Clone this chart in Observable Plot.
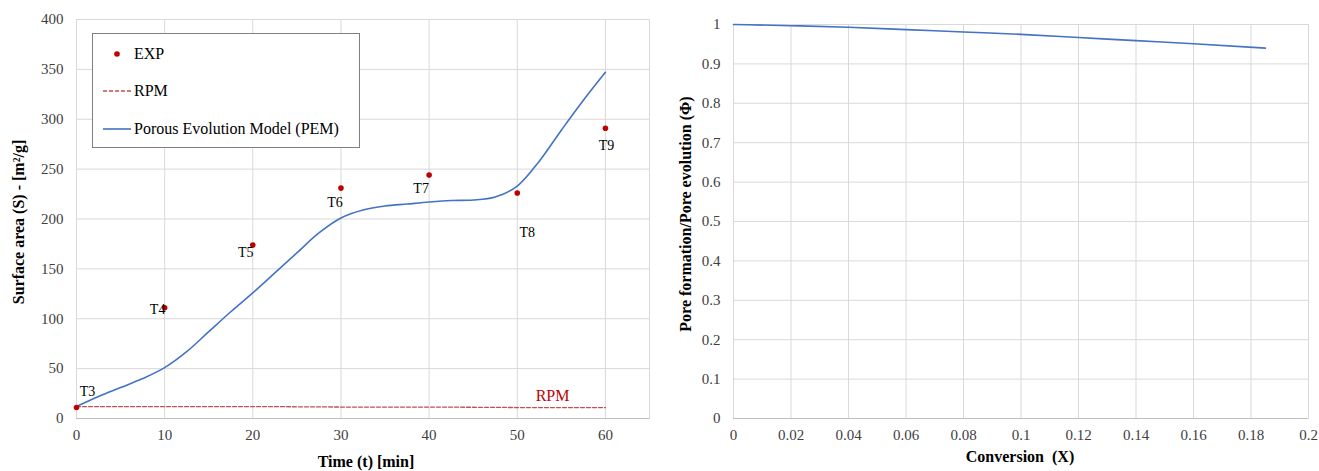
<!DOCTYPE html>
<html>
<head>
<meta charset="utf-8">
<script src="https://cdn.jsdelivr.net/npm/d3@7"></script>
<script src="https://cdn.jsdelivr.net/npm/@observablehq/plot@0.6"></script>
<style>
  body { margin: 0; background: #fff; }
  #wrap { position: relative; width: 1319px; height: 471px; font-family: "Liberation Serif", serif; color: #000; }
  #wrap svg, #wrap svg text { font-family: "Liberation Serif", serif !important; }
  .panel { position: absolute; top: 0; }
  .ttl { position: absolute; font-weight: bold; font-size: 16px; white-space: nowrap; }
  .rot { transform: translate(-50%, -50%) rotate(-90deg); }
  .hz { transform: translate(-50%, -50%); }
  #legend { position: absolute; left: 92px; top: 33px; width: 266px; height: 113px; border: 1px solid #808080; background: #fff; font-size: 16px; }
  .lrow { position: absolute; left: 0; height: 20px; display: flex; align-items: center; }
  .lrow svg { margin-left: 10px; margin-right: 3px; }
</style>
</head>
<body>
<div id="wrap">
  <div id="left" class="panel" style="left:0"></div>
  <div id="right" class="panel" style="left:660px"></div>
  <div class="ttl rot" style="left:19px; top:222px;">Surface area (S) - [m²/g]</div>
  <div class="ttl hz" style="left:366px; top:462px;">Time (t) [min]</div>
  <div class="ttl rot" style="left:686px; top:214px;">Pore formation/Pore evolution (Φ)</div>
  <div class="ttl hz" style="left:1020px; top:457px;">Conversion&nbsp; (X)</div>
  <div id="legend">
    <div class="lrow" style="top:10px;"><svg width="28" height="10"><circle cx="14" cy="5" r="2.8" fill="#c00000"/></svg><span>EXP</span></div>
    <div class="lrow" style="top:47px;"><svg width="28" height="10"><line x1="0" x2="28" y1="5" y2="5" stroke="#c0504d" stroke-width="1.3" stroke-dasharray="4,2"/></svg><span>RPM</span></div>
    <div class="lrow" style="top:85px;"><svg width="28" height="10"><line x1="0" x2="28" y1="5" y2="5" stroke="#4472c4" stroke-width="1.6"/></svg><span>Porous Evolution Model (PEM)</span></div>
  </div>
</div>
<script>
// ---- Left panel data ----
const expTime = [0, 10, 20, 30, 40, 50, 60];
const expArea = [11, 111, 174, 231, 244, 226, 291];
const expNames = ["T3", "T4", "T5", "T6", "T7", "T8", "T9"];

const pemTime = [0, 2.5, 5, 7.5, 10, 12.5, 15, 17.5, 20, 22.5, 25, 27.5, 30, 32.5, 35, 37.5, 40, 42.5, 45, 47.5, 50, 52.5, 55, 57.5, 60];
const pemArea = [12, 22, 31, 40, 51, 67, 87, 107, 126, 146, 166, 186, 201, 209, 213, 215, 217, 218.5, 219, 222, 233, 258, 289, 319, 347];

const rpmTime = [0, 10, 20, 30, 40, 50, 60];
const rpmArea = [12, 12, 12, 11.5, 11.5, 11, 11];

const leftXTicks = [0, 10, 20, 30, 40, 50, 60];
const leftYTicks = [0, 50, 100, 150, 200, 250, 300, 350, 400];

// ---- Right panel data ----
const conv = [0, 0.02, 0.04, 0.06, 0.08, 0.1, 0.12, 0.14, 0.16, 0.185];
const phi = [1.0, 0.997, 0.993, 0.987, 0.981, 0.975, 0.967, 0.959, 0.951, 0.940];

const rightXTicks = [0, 0.02, 0.04, 0.06, 0.08, 0.1, 0.12, 0.14, 0.16, 0.18, 0.2];
const rightYTicks = [0, 0.1, 0.2, 0.3, 0.4, 0.5, 0.6, 0.7, 0.8, 0.9, 1];

// label offsets (styling, not data)
const labelDx = [11, -7, -7, -6, -8, 10, 1];
const labelDy = [-16, 2, 8, 14, 13, 39, 17];

const expData = expTime.map((t, i) => ({t, s: expArea[i], name: expNames[i], dx: labelDx[i], dy: labelDy[i]}));
const pemData = pemTime.map((t, i) => ({t, s: pemArea[i]}));
const rpmData = rpmTime.map((t, i) => ({t, s: rpmArea[i]}));
const phiData = conv.map((x, i) => ({x, p: phi[i]}));

const gridColor = "#d9d9d9";
const font = {fontFamily: "'Liberation Serif', serif", fontSize: "15px", color: "#404040", background: "transparent"};

const left = Plot.plot({
  width: 660, height: 471,
  marginLeft: 76, marginRight: 11, marginTop: 19, marginBottom: 53,
  style: font,
  x: {domain: [0, 65]},
  y: {domain: [0, 400]},
  marks: [
    Plot.gridX(leftXTicks, {stroke: gridColor, strokeOpacity: 1}),
    Plot.gridY(leftYTicks, {stroke: gridColor, strokeOpacity: 1}),
    Plot.frame({stroke: gridColor}),
    Plot.ruleY([0], {stroke: "#bfbfbf"}),
    Plot.axisX(leftXTicks, {tickSize: 0, tickPadding: 11, label: null, fill: "#404040", fontSize: 15}),
    Plot.axisY(leftYTicks, {tickSize: 0, tickPadding: 13, label: null, fill: "#404040", fontSize: 15}),
    Plot.line(rpmData, {x: "t", y: "s", stroke: "#c0504d", strokeWidth: 1.3, strokeDasharray: "4,2"}),
    Plot.line(pemData, {x: "t", y: "s", stroke: "#4472c4", strokeWidth: 1.6, curve: "catmull-rom"}),
    Plot.dot(expData, {x: "t", y: "s", r: 2.8, fill: "#c00000", stroke: "none"}),
    ...expData.map(d => Plot.text([d], {x: "t", y: "s", text: "name", dx: d.dx, dy: d.dy, fontSize: 14, fill: "#000"})),
    Plot.text(["RPM"], {x: 54, y: 23, text: d => d, fill: "#c00000", fontSize: 16})
  ]
});
document.getElementById("left").appendChild(left);

const fmt = d => String(+d.toFixed(2));
const right = Plot.plot({
  width: 659, height: 471,
  marginLeft: 73, marginRight: 11, marginTop: 24, marginBottom: 53,
  style: font,
  x: {domain: [0, 0.2]},
  y: {domain: [0, 1]},
  marks: [
    Plot.gridX(rightXTicks, {stroke: gridColor, strokeOpacity: 1}),
    Plot.gridY(rightYTicks, {stroke: gridColor, strokeOpacity: 1}),
    Plot.frame({stroke: gridColor}),
    Plot.ruleY([0], {stroke: "#bfbfbf"}),
    Plot.axisX(rightXTicks, {tickSize: 0, tickPadding: 11, label: null, tickFormat: fmt, fill: "#404040", fontSize: 15}),
    Plot.axisY(rightYTicks, {tickSize: 0, tickPadding: 13, label: null, tickFormat: fmt, fill: "#404040", fontSize: 15}),
    Plot.line(phiData, {x: "x", y: "p", stroke: "#4472c4", strokeWidth: 1.6, curve: "monotone-x"})
  ]
});
document.getElementById("right").appendChild(right);
</script>
</body>
</html>
